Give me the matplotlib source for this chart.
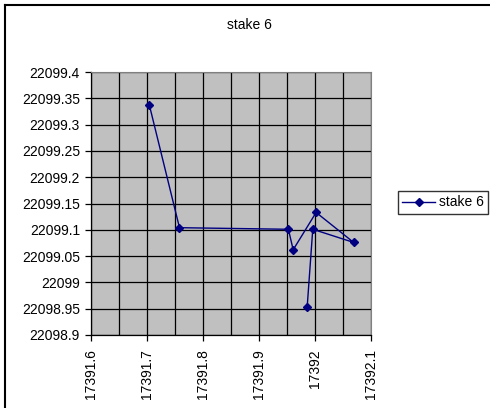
import numpy as np
import matplotlib
matplotlib.use("Agg")
import matplotlib.pyplot as plt
from matplotlib.lines import Line2D
from matplotlib.ticker import MultipleLocator

plt.rcParams['font.family'] = ['Liberation Sans', 'DejaVu Sans']

# survey points for stake 6, in the order they were recorded
easting = [17391.704, 17391.758, 17391.9525, 17391.961, 17392.002, 17392.069, 17391.996, 17391.986]
northing = [22099.338, 22099.104, 22099.101, 22099.062, 22099.133, 22099.076, 22099.101, 22098.953]
series_name = "stake 6"

fig = plt.figure(figsize=(4.9, 4.08), dpi=100)
ax = fig.add_axes([91/490, 1 - 335/408, 280/490, 263/408])
ax.set_facecolor("#C0C0C0")

line, = ax.plot(easting, northing, color="#000080", lw=1.0, marker="D",
                markersize=4.5, markerfacecolor="#000080", markeredgecolor="#000080",
                label=series_name, zorder=3)

ax.set_xlim(17391.6, 17392.1)
ax.set_ylim(22098.9, 22099.4)
ax.xaxis.set_major_locator(MultipleLocator(0.1))
ax.xaxis.set_minor_locator(MultipleLocator(0.05))
ax.yaxis.set_major_locator(MultipleLocator(0.05))
ax.xaxis.set_major_formatter(lambda v, p: f"{v:.1f}".rstrip("0").rstrip("."))
ax.yaxis.set_major_formatter(lambda v, p: f"{v:.2f}".rstrip("0").rstrip("."))

ax.grid(True, which="major", color="black", lw=0.9)
ax.grid(True, which="minor", axis="x", color="black", lw=0.9)
ax.set_axisbelow(True)

ax.tick_params(axis="x", which="major", direction="out", length=4, width=0.9,
               pad=6, labelsize=10, labelrotation=90)
ax.tick_params(axis="x", which="minor", length=0)
ax.tick_params(axis="y", direction="out", length=4, width=0.9, pad=4, labelsize=10)

for side in ["top", "right"]:
    ax.spines[side].set_color("#808080")
for side in ["left", "bottom"]:
    ax.spines[side].set_color("black")
    ax.spines[side].set_linewidth(0.9)

fig.text(249.5/490, 1 - 25/408, "stake 6", ha="center", va="center", fontsize=10)

leg = fig.legend(handles=[line], loc="center", bbox_to_anchor=(443/490, 1 - 202.5/408),
                 fontsize=10, frameon=True, fancybox=False, handlelength=2.4,
                 handletextpad=0.25, borderpad=0.3, borderaxespad=0)
leg.get_frame().set_edgecolor("black")
leg.get_frame().set_linewidth(1.0)

# chart area border (left and top edges)
fig.add_artist(Line2D([5/490, 5/490], [0, 1 - 5/408], color="black", lw=1.5))
fig.add_artist(Line2D([5/490, 1], [1 - 5/408, 1 - 5/408], color="black", lw=1.5))

fig.savefig("out.png", dpi=100)
